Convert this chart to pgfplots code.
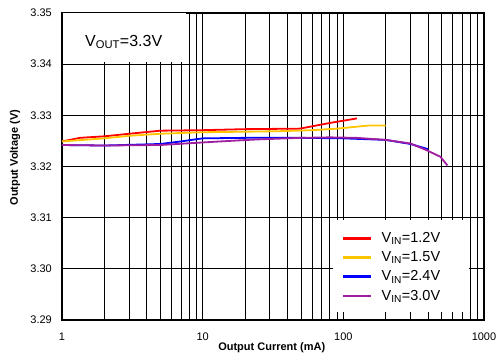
\documentclass[border=0pt]{standalone}
\usepackage{pgfplots}
\pgfplotsset{compat=1.18}
\usepackage{fontspec}
\setmainfont{Liberation Sans}
\definecolor{cred}{RGB}{255,0,0}
\definecolor{cyel}{RGB}{255,198,0}
\definecolor{cblu}{RGB}{0,0,255}
\definecolor{cpur}{RGB}{160,30,160}
\begin{document}
\begin{tikzpicture}
\useasboundingbox (-62pt,-42pt) rectangle (437pt,320pt);
\begin{axis}[
  at={(0pt,0pt)}, anchor=south west,
  scale only axis, width=422pt, height=307pt,
  xmode=log, xmin=1, xmax=1000, ymin=3.29, ymax=3.35,
  xtick={1,10,100,1000}, xticklabels={1,10,100,1000},
  ytick={3.29,3.30,3.31,3.32,3.33,3.34,3.35},
  yticklabels={3.29,3.30,3.31,3.32,3.33,3.34,3.35},
  /pgf/number format/assume math mode=true,
  grid=both,
  major grid style={black, line width=0.75pt},
  minor grid style={black, line width=0.75pt},
  major tick length=0pt, minor tick length=0pt,
  tick style={draw=none},
  axis line style={line width=1.3pt},
  ticklabel style={font=\fontsize{11}{13}\selectfont},
  yticklabel style={anchor=east, inner sep=0pt, xshift=-10pt},
  xticklabel style={anchor=north, inner sep=0pt, yshift=-13pt},
  xlabel={Output Current (mA)},
  ylabel={Output Voltage (V)},
  xlabel style={font=\bfseries\fontsize{11}{13}\selectfont, at={(axis description cs:0.497,-0.091)}, anchor=center},
  ylabel style={font=\bfseries\fontsize{11}{13}\selectfont, at={(axis description cs:-0.111,0.529)}, anchor=center},
  legend style={draw=none, fill=none, at={(rel axis cs:0.6635,0.285)}, anchor=north west,
    inner xsep=0pt, inner ysep=0pt, row sep=7.5pt,
    font=\fontsize{14.5}{16}\selectfont,
    nodes={inner sep=0pt},
    /tikz/column 1/.style={column sep=9pt}},
  legend cell align=left,
  legend image code/.code={\draw[#1, line width=2.4pt] (0pt,0pt) -- (28pt,0pt);},
]
\fill[white] ([xshift=0.65pt]rel axis cs:0,0.8414) rectangle (rel axis cs:0.2927,1) ;
\fill[white] (rel axis cs:0.6422,0.027) rectangle (rel axis cs:0.9645,0.3257);
\node[anchor=base, font=\fontsize{16}{18}\selectfont, inner sep=0pt] at (rel axis cs:0.1462,0.8915) {V\textsubscript{OUT}=3.3V};

\addplot[cred, line width=1.8pt, line join=round] coordinates {
(1,3.3249) (1.34,3.3256) (2,3.3259) (3,3.3264) (5,3.3270) (10,3.3271) (20,3.3273) (49,3.3274) (80,3.3285) (125,3.3294)};
\addlegendentry{V\textsubscript{IN}=1.2V}
\addplot[cyel, line width=1.8pt, line join=round] coordinates {
(1,3.3249) (2,3.3255) (3,3.3260) (5,3.3264) (10,3.3267) (20,3.3268) (35,3.3269) (60,3.3271) (90,3.3274) (150,3.3280) (200,3.3280)};
\addlegendentry{V\textsubscript{IN}=1.5V}
\addplot[cblu, line width=1.8pt, line join=round] coordinates {
(1,3.3242) (2,3.3241) (5,3.3244) (7,3.3249) (10,3.3255) (20,3.3256) (50,3.3256) (100,3.3255) (200,3.3252) (300,3.3244) (400,3.3234)};
\addlegendentry{V\textsubscript{IN}=2.4V}
\addplot[cpur, line width=1.8pt, line join=round] coordinates {
(1,3.3242) (2,3.3241) (5,3.3242) (10,3.3247) (18,3.3251) (25,3.3253) (50,3.3256) (80,3.3257) (125,3.3256) (200,3.3252) (300,3.3245) (390,3.3232) (490,3.3219) (550,3.3202)};
\addlegendentry{V\textsubscript{IN}=3.0V}
\end{axis}
\end{tikzpicture}
\end{document}
